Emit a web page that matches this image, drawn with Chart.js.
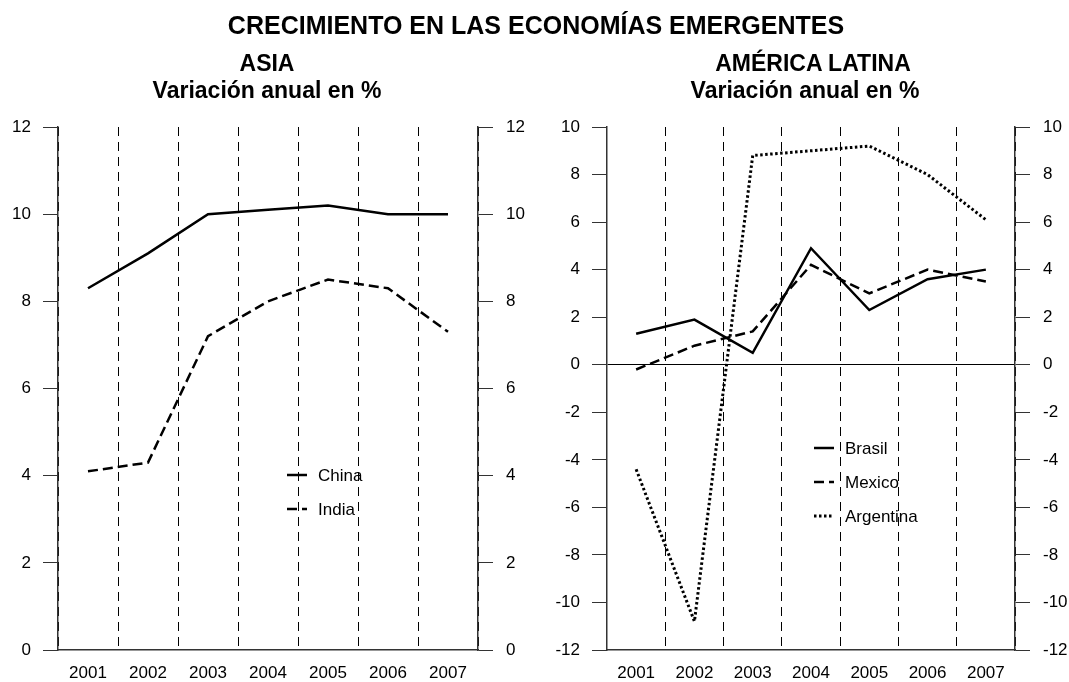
<!DOCTYPE html>
<html>
<head>
<meta charset="utf-8">
<script src="https://cdn.jsdelivr.net/npm/chart.js@4.4.0/dist/chart.umd.min.js"></script>
<style>
  body { margin: 0; background: #fff; font-family: "Liberation Sans", Arial, sans-serif; }
  #page { position: relative; width: 1069px; height: 682px; overflow: hidden; }
  canvas { position: absolute; top: 0; }
  .t { position: absolute; font-weight: bold; white-space: nowrap; transform: translateX(-50%); color: #000; }
</style>
</head>
<body>
<div id="page">
  <canvas id="asiaChart" width="534" height="682" style="left:0"></canvas>
  <canvas id="latamChart" width="535" height="682" style="left:534px"></canvas>
  <div class="t" style="left:536px; top:10px; font-size:25px; line-height:30px">CRECIMIENTO EN LAS ECONOMÍAS EMERGENTES</div>
  <div class="t" style="left:267px; top:50px; font-size:23px; line-height:27px">ASIA</div>
  <div class="t" style="left:267px; top:77px; font-size:23px; line-height:27px">Variación anual en %</div>
  <div class="t" style="left:813px; top:50px; font-size:23px; line-height:27px">AMÉRICA LATINA</div>
  <div class="t" style="left:805px; top:77px; font-size:23px; line-height:27px">Variación anual en %</div>
</div>
<script>
const years = ['2001', '2002', '2003', '2004', '2005', '2006', '2007'];

// Asia, % anual
const china = [8.3, 9.1, 10.0, 10.1, 10.2, 10.0, 10.0];
const india = [4.1, 4.3, 7.2, 8.0, 8.5, 8.3, 7.3];

// America Latina, % anual
const brasil = [1.3, 1.9, 0.5, 4.9, 2.3, 3.6, 4.0];
const mexico = [-0.2, 0.8, 1.4, 4.2, 3.0, 4.0, 3.5];
const argentina = [-4.4, -10.8, 8.8, 9.0, 9.2, 8.0, 6.1];

const asiaRange = [0, 12];
const latamRange = [-12, 10];

const font = { family: "'Liberation Sans', Arial, sans-serif", size: 17 };

// simple legend drawn inside the plot area
const innerLegend = {
  id: 'innerLegend',
  afterDatasetsDraw(chart, args, opts) {
    const ctx = chart.ctx;
    const area = chart.chartArea;
    ctx.save();
    chart.data.datasets.forEach((ds, i) => {
      const x = area.left + opts.x;
      const y = area.top + opts.y + i * opts.gap;
      ctx.beginPath();
      ctx.lineWidth = ds.borderWidth;
      ctx.strokeStyle = ds.borderColor;
      ctx.setLineDash(ds.borderDash || []);
      ctx.moveTo(x, y);
      ctx.lineTo(x + 20, y);
      ctx.stroke();
      ctx.setLineDash([]);
      ctx.fillStyle = '#000';
      ctx.font = font.size + 'px ' + font.family;
      ctx.textBaseline = 'middle';
      ctx.fillText(ds.label, x + 31, y + 1);
    });
    ctx.restore();
  }
};

function makeChart(id, datasets, range, widths, legendPos, zeroLine) {
  const yAxis = (pos, w, pad) => ({
    position: pos,
    min: range[0],
    max: range[1],
    afterFit: s => { s.width = w; },
    ticks: { stepSize: 2, color: '#000', font: font, padding: pad },
    grid: {
      drawOnChartArea: zeroLine && pos === 'left',
      color: c => (c.tick && c.tick.value === 0) ? '#000' : 'rgba(0,0,0,0)',
      tickColor: '#333',
      tickLength: 15,
      lineWidth: 1
    },
    border: { display: true, color: '#333', width: 1.5 }
  });
  return new Chart(document.getElementById(id), {
    type: 'line',
    data: { labels: years, datasets: datasets },
    options: {
      responsive: false,
      animation: false,
      layout: { padding: { top: 127, left: 0, right: 0, bottom: 0 } },
      elements: { point: { radius: 0 }, line: { tension: 0 } },
      plugins: { legend: { display: false }, tooltip: { enabled: false }, innerLegend: legendPos },
      scales: {
        x: {
          offset: true,
          afterFit: s => { s.height = 32; },
          ticks: { color: '#000', font: font, padding: 13 },
          grid: { offset: true, color: '#000', lineWidth: 1, drawTicks: false },
          border: { display: true, color: '#333', width: 1.5, dash: [9, 6] }
        },
        y: yAxis('left', widths[0], 12),
        y2: yAxis('right', widths[1], 13)
      }
    },
    plugins: [innerLegend]
  });
}

function series(label, data, dash, width) {
  return {
    label: label,
    data: data,
    borderColor: '#000',
    borderWidth: width,
    borderDash: dash,
    borderCapStyle: 'butt',
    yAxisID: 'y',
    fill: false
  };
}

makeChart('asiaChart', [
  series('China', china, [], 2.5),
  series('India', india, [10, 5], 2.5)
], asiaRange, [58, 56], { x: 229, y: 348, gap: 34 }, false);

makeChart('latamChart', [
  series('Brasil', brasil, [], 2.5),
  series('Mexico', mexico, [10, 5], 2.5),
  series('Argentina', argentina, [2.5, 2.5], 3)
], latamRange, [73, 54], { x: 207, y: 321, gap: 34 }, true);
</script>
</body>
</html>
